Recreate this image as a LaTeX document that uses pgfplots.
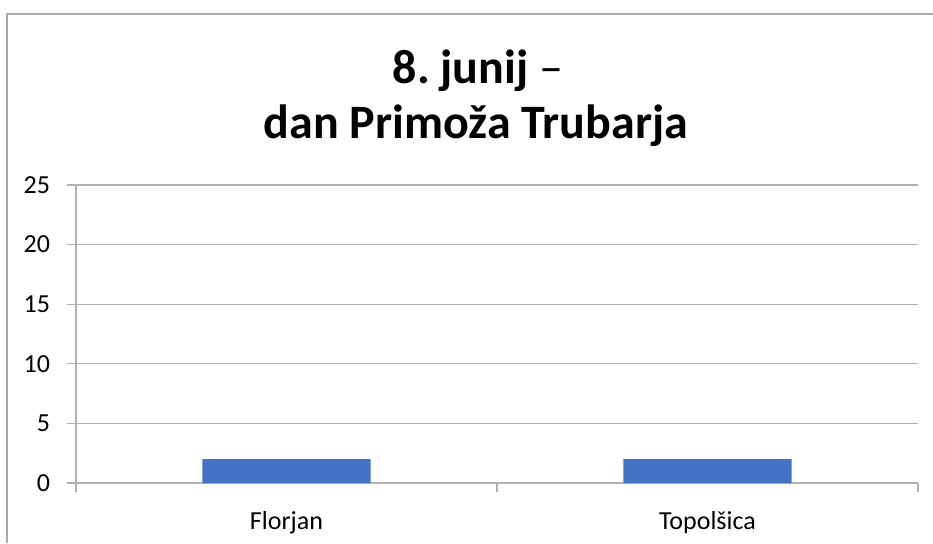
\documentclass[border=0pt]{standalone}
\usepackage{fontspec}
\setmainfont{Carlito}
\usepackage{pgfplots}
\pgfplotsset{compat=1.18}
\definecolor{barblue}{HTML}{4472C4}
\definecolor{gridgray}{HTML}{B0B0B0}
\definecolor{framegray}{HTML}{ABABAB}
\frenchspacing

\begin{document}
\begin{tikzpicture}
\useasboundingbox (0,0) rectangle (466.5pt,271.5pt);
% chart frame (cut off at right and bottom)
\draw[framegray, line width=0.6pt] (3.5pt,0pt) -- (3.5pt,264.5pt) -- (466.5pt,264.5pt);
\node[anchor=base, font=\fontsize{24}{28}\selectfont\bfseries] at (239pt,230pt) {8. junij {\mdseries –}};
\node[anchor=base, font=\fontsize{24}{28}\selectfont\bfseries] at (238pt,202.5pt) {dan Primoža Trubarja};
\begin{axis}[
    at={(38pt,30pt)}, anchor=south west,
    scale only axis, width=421pt, height=149pt,
    xmin=-0.5, xmax=1.5, ymin=0, ymax=25,
    ytick={0,5,10,15,20,25},
    xtick={-0.5,0.5,1.5}, xticklabels={},
    extra x ticks={0,1},
    extra x tick labels={Florjan,Topolšica},
    extra x tick style={major tick length=0pt,
      xticklabel style={yshift=-10.5pt}},
    axis x line*=bottom, axis y line*=left,
    axis line style={gridgray, line width=0.6pt},
    tick align=outside, major tick length=4.5pt,
    tick style={gridgray, line width=0.6pt},
    ymajorgrids, grid style={gridgray, line width=0.6pt},
    tick label style={font=\fontsize{13}{15}\selectfont},
    yticklabel style={xshift=-5pt},
    /pgf/number format/assume math mode=true,
    ybar, bar width=0.4,
    ]
\addplot[fill=barblue, draw=none] coordinates {(0,2) (1,2)};
\end{axis}
\end{tikzpicture}
\end{document}
